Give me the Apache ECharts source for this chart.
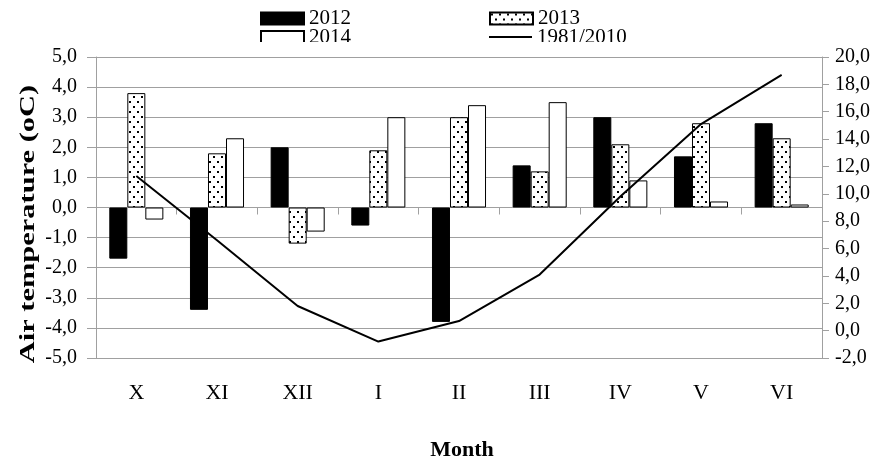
<!DOCTYPE html>
<html>
<head>
<meta charset="utf-8">
<script src="https://cdn.jsdelivr.net/npm/echarts@6/dist/echarts.min.js"></script>
<style>
  html, body { margin: 0; padding: 0; background: #fff; }
  #chart { width: 885px; height: 461px; }
</style>
</head>
<body>
<div id="chart"></div>
<script>
// Monthly air temperature deviations (bars, left axis) and 1981/2010 normal (line, right axis)
const months = ['X', 'XI', 'XII', 'I', 'II', 'III', 'IV', 'V', 'VI'];
const temp2012 = [-1.7, -3.4, 2.0, -0.6, -3.8, 1.4, 3.0, 1.7, 2.8];
const temp2013 = [3.8, 1.8, -1.2, 1.9, 3.0, 1.2, 2.1, 2.8, 2.3];
const temp2014 = [-0.4, 2.3, -0.8, 3.0, 3.4, 3.5, 0.9, 0.2, 0.1];
const normal19812010 = [11.3, 6.6, 1.8, -0.8, 0.7, 4.1, 9.8, 15.1, 18.7];

const leftTicks = { min: -5, max: 5, step: 1 };
const rightTicks = { min: -2, max: 20, step: 2 };

const FONT = '"Liberation Serif", "Times New Roman", serif';
const GRID_GREY = '#a0a0a0';

// dotted fill used for the 2013 bars
function dotPattern() {
  const c = document.createElement('canvas');
  c.width = 8; c.height = 10;
  const g = c.getContext('2d');
  g.fillStyle = '#ffffff';
  g.fillRect(0, 0, 8, 10);
  g.fillStyle = '#000000';
  g.fillRect(1, 1, 2, 2);
  g.fillRect(5, 6, 2, 2);
  return c;
}

const fmt = v => v.toFixed(1).replace('.', ',');

const chart = echarts.init(document.getElementById('chart'), null, { renderer: 'canvas' });

const tickLabel = { fontFamily: FONT, fontSize: 20, color: '#000' };
const legendText = { fontFamily: FONT, fontSize: 21, color: '#000' };
const lineIcon = 'path://M0,0 L22,0 L22,1 L0,1 Z';

chart.setOption({
  animation: false,
  backgroundColor: '#fff',
  grid: { left: 96, right: 63, top: 57, bottom: 103, containLabel: false },
  legend: [
    {
      data: [{ name: '2012', icon: 'rect' }, { name: '2013', icon: 'rect' }],
      left: 260, top: 8, padding: 0,
      itemWidth: 43, itemHeight: 12, itemGap: 138,
      textStyle: legendText,
      selectedMode: false
    },
    {
      data: [{ name: '2014', icon: 'rect' }, { name: '1981/2010', icon: lineIcon }],
      left: 260, top: 26.5, padding: 0,
      itemWidth: 43, itemHeight: 12, itemGap: 138,
      textStyle: legendText,
      selectedMode: false
    }
  ],
  graphic: [
    // the second legend row runs under the top edge of the plot frame
    { type: 'rect', left: 240, top: 42, shape: { width: 460, height: 14 }, style: { fill: '#fff' }, z: 100 },
    {
      type: 'text', x: 29, y: 224, rotation: Math.PI / 2, scaleX: 1.45, z: 100,
      style: { text: 'Air temperature (oC)', fontFamily: FONT, fontSize: 21, fontWeight: 'bold', fill: '#000', align: 'center', verticalAlign: 'middle' }
    },
    {
      type: 'text', x: 462, y: 450, z: 100,
      style: { text: 'Month', fontFamily: FONT, fontSize: 22, fontWeight: 'bold', fill: '#000', align: 'center', verticalAlign: 'middle' }
    }
  ],
  xAxis: [
    {
      type: 'category', data: months, position: 'bottom',
      axisLine: { show: false, onZero: false }, axisTick: { show: false },
      axisLabel: { margin: 24, fontFamily: FONT, fontSize: 22, color: '#000' },
      splitLine: { show: false }
    },
    {
      type: 'category', data: months, position: 'bottom',
      axisLine: { show: true, onZero: true, onZeroAxisIndex: 0, lineStyle: { color: GRID_GREY, width: 1 } },
      axisTick: { show: true, length: 7, lineStyle: { color: GRID_GREY } },
      axisLabel: { show: false },
      splitLine: { show: false }
    }
  ],
  yAxis: [
    {
      type: 'value', min: leftTicks.min, max: leftTicks.max, interval: leftTicks.step, position: 'left',
      axisLine: { show: true, lineStyle: { color: GRID_GREY } },
      axisTick: { show: true, length: 9, lineStyle: { color: GRID_GREY } },
      axisLabel: Object.assign({ margin: 19, formatter: fmt }, tickLabel),
      splitLine: { show: true, lineStyle: { color: GRID_GREY, width: 1 } }
    },
    {
      type: 'value', min: rightTicks.min, max: rightTicks.max, interval: rightTicks.step, position: 'right',
      axisLine: { show: true, lineStyle: { color: GRID_GREY } },
      axisTick: { show: true, length: 7, lineStyle: { color: GRID_GREY } },
      axisLabel: Object.assign({ margin: 13, formatter: fmt }, tickLabel),
      splitLine: { show: false }
    }
  ],
  series: [
    {
      name: '2012', type: 'bar', data: temp2012, xAxisIndex: 0, yAxisIndex: 0,
      barGap: '0%', barCategoryGap: '33%',
      itemStyle: { color: '#000', borderColor: '#000', borderWidth: 1 }
    },
    {
      name: '2013', type: 'bar', data: temp2013, xAxisIndex: 0, yAxisIndex: 0,
      itemStyle: { color: { image: dotPattern(), repeat: 'repeat' }, borderColor: '#000', borderWidth: 1 }
    },
    {
      name: '2014', type: 'bar', data: temp2014, xAxisIndex: 0, yAxisIndex: 0,
      itemStyle: { color: '#fff', borderColor: '#000', borderWidth: 1 }
    },
    {
      name: '1981/2010', type: 'line', data: normal19812010, xAxisIndex: 0, yAxisIndex: 1,
      symbol: 'none', z: 5,
      lineStyle: { color: '#000', width: 2 },
      itemStyle: { color: '#000' }
    }
  ]
});
</script>
</body>
</html>
